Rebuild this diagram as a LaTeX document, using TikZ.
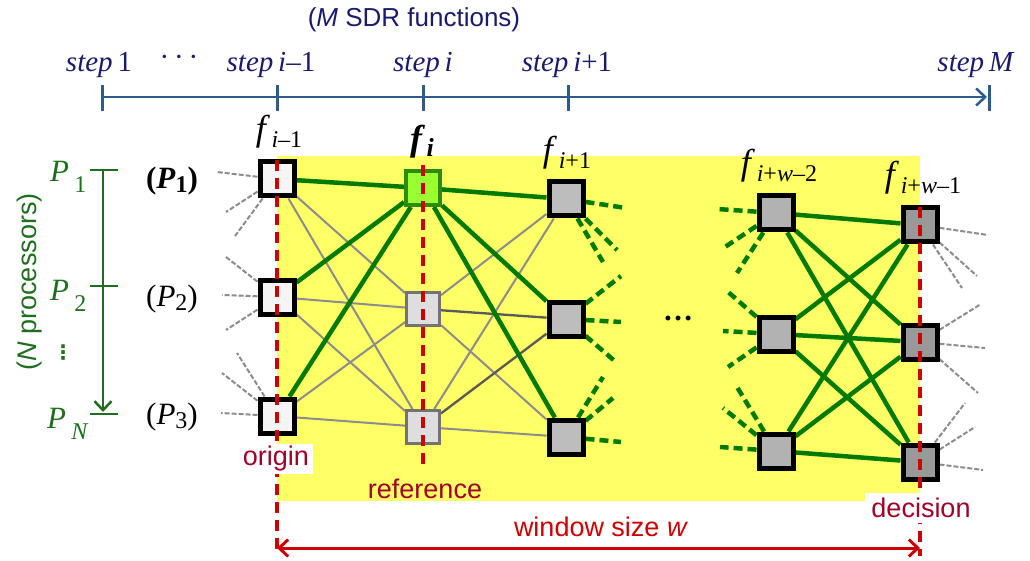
\documentclass[tikz,border=0pt]{standalone}
\usepackage{fontspec}
\setmainfont{Liberation Serif}
\setsansfont{Liberation Sans}
\newfontfamily\dejavu{DejaVu Sans}
\usetikzlibrary{arrows.meta}
\newcommand\myfs[1]{\fontsize{#1}{#1}\selectfont}
\newcommand\flab[1]{{\myfs{36}\textit{f}}\,\raisebox{-7pt}{\myfs{24}#1}}
\definecolor{navy}{HTML}{1A1A6E}
\definecolor{tline}{HTML}{2F5A8C}
\definecolor{dgreen}{HTML}{007A00}
\definecolor{lgreen}{HTML}{99FF33}
\definecolor{bgreen}{HTML}{2E8B10}
\definecolor{ylw}{HTML}{FFFF66}
\definecolor{dred}{HTML}{CC0000}
\definecolor{tred}{HTML}{A0002A}
\definecolor{pgreen}{HTML}{1E6E1E}
\pgfdeclarelayer{bg}
\pgfsetlayers{bg,main}
\begin{document}
\begin{tikzpicture}[x=1pt,y=-1pt,
  bx/.style={draw=black,line width=5pt,minimum size=34pt,inner sep=0pt},
  colA/.style={bx,fill=black!4},
  colBtop/.style={bx,draw=bgreen,line width=4pt,fill=lgreen,minimum size=34pt},
  colB/.style={bx,draw=black!55,line width=3pt,fill=black!13,minimum size=33pt},
  colC/.style={bx,fill=black!26},
  colD/.style={bx,fill=black!30},
  colE/.style={bx,fill=black!40},
  gedge/.style={draw=dgreen,line width=4.5pt},
  gyedge/.style={draw=black!45,line width=2pt},
  dgyedge/.style={draw=black!65,line width=2.3pt},
  gstub/.style={draw=dgreen,line width=4.5pt,dash pattern=on 9pt off 5pt},
  grstub/.style={draw=black!45,line width=2pt,dash pattern=on 5pt off 2pt},
  reddash/.style={draw=dred,line width=3.5pt,dash pattern=on 11pt off 7pt},
  steplab/.style={anchor=base,text=navy,font=\myfs{29}},
  redlab/.style={text=tred,font=\sffamily\myfs{27},inner sep=2pt},
  plab/.style={anchor=base west,text=pgreen,font=\myfs{31},inner sep=0pt},
  pplab/.style={anchor=base,text=black,font=\myfs{31},inner sep=0pt},
  flabel/.style={anchor=base,inner sep=0pt}
]
\useasboundingbox (0,0) rectangle (1030,561);

% ---- timeline ----
\node[text=navy,font=\sffamily\myfs{26}] (title) at (414,20) {(\textit{M} SDR functions)};
\node[steplab] (s1) at (99,72) {\textit{step}\,1};
\node[steplab] (sd) at (179,72) {\raisebox{5pt}{·\,·\,·}};
\node[steplab] (sim) at (271,72) {\textit{step}\,\textit{i}–1};
\node[steplab] (si) at (423,72) {\textit{step}\,\textit{i}};
\node[steplab] (sip) at (567,72) {\textit{step}\,\textit{i}+1};
\node[steplab] (sM) at (976,72) {\textit{step}\,\textit{M}};
\coordinate (tl0) at (102,97);
\coordinate (tl1) at (987,97);
\draw[tline,line width=2.5pt,-{Straight Barb[length=9pt,width=17pt,line width=2.5pt]}] (tl0) -- (tl1);
\foreach \x [count=\k] in {102,277,423,568,989} {
  \coordinate (tt\k) at (\x,85);
  \coordinate (tb\k) at (\x,111);
  \draw[tline,line width=3pt] (tt\k) -- (tb\k);
}

% ---- processors axis ----
\node[rotate=90,text=pgreen,font=\sffamily\myfs{27}] (nproc) at (30,282) {(\textit{N} processors)};
\coordinate (pa0) at (103,170);
\coordinate (pa1) at (103,412);
\draw[pgreen,line width=2.5pt,-{Straight Barb[length=9pt,width=17pt,line width=2.5pt]}] (pa0) -- (pa1);
\foreach \y [count=\k] in {170,286,414} {
  \coordinate (pl\k) at (90,\y);
  \coordinate (pr\k) at (118,\y);
  \draw[pgreen,line width=2.5pt] (pl\k) -- (pr\k);
}
\node[plab] (P1) at (50,182) {\textit{P}\,\raisebox{-11pt}{\myfs{24}1}};
\node[plab] (P2) at (50,300) {\textit{P}\,\raisebox{-11pt}{\myfs{24}2}};
\node[plab] (PN) at (47,428) {\textit{P}\,\raisebox{-11pt}{\myfs{24}\textit{N}}};
\node[text=pgreen,font=\dejavu\bfseries\myfs{20}] (vd) at (63,353) {⋮};

\node[pplab] (Q1) at (172,189) {\textbf{(\textit{P}\raisebox{-4pt}{\myfs{24}1})}};
\node[pplab] (Q2) at (172,306) {(\textit{P}\raisebox{-4pt}{\myfs{24}2})};
\node[pplab] (Q3) at (172,424) {(\textit{P}\raisebox{-4pt}{\myfs{24}3})};

% ---- nodes ----
\node[colA] (a1) at (277,179) {};
\node[colA] (a2) at (277,297) {};
\node[colA] (a3) at (277,416) {};
\node[colBtop] (b1) at (423,188) {};
\node[colB] (b2) at (423,309) {};
\node[colB] (b3) at (423,427) {};
\node[colC] (c1) at (566,199) {};
\node[colC] (c2) at (566,319) {};
\node[colC] (c3) at (566,437) {};
\node[colD] (d1) at (776,213) {};
\node[colD] (d2) at (776,334) {};
\node[colD] (d3) at (776,451) {};
\node[colE] (e1) at (920,225) {};
\node[colE] (e2) at (920,342) {};
\node[colE] (e3) at (920,462) {};

\node[flabel] (fa) at (279,141) {\flab{\textit{i}–1}};
\node[flabel] (fb) at (422,151) {{\myfs{36}\textbf{\textit{f}}}\,\raisebox{-6pt}{\myfs{26}\textbf{\textit{i}}}};
\node[flabel] (fc) at (567,162) {\flab{\textit{i}+1}};
\node[flabel] (fd) at (779,175) {\flab{\textit{i}+\textit{w}–2}};
\node[flabel] (fe) at (923,187) {\flab{\textit{i}+\textit{w}–1}};

\node[font=\myfs{30}] (dots) at (678,318) {\textbf{…}};

% ---- background layer ----
\begin{pgfonlayer}{bg}
\fill[ylw] (277,156) rectangle (920,501);
\foreach \s/\t in {a1/b2,a1/b3,a2/b2,a2/b3,a3/b2,a3/b3,b2/c1,b3/c1,b2/c3,b3/c3}
  \draw[gyedge] (\s) -- (\t);
\foreach \s/\t in {b2/c2,b3/c2}
  \draw[dgyedge] (\s) -- (\t);
\foreach \s/\t in {a1/b1,a2/b1,a3/b1,b1/c1,b1/c2,b1/c3}
  \draw[gedge] (\s) -- (\t);
\foreach \s in {d1,d2,d3}
  \foreach \t in {e1,e2,e3}
    \draw[gedge] (\s) -- (\t);
% gray stubs left
\foreach \n/\x/\y [count=\k] in {a1/217/172,a1/226/212,a1/235/236,a2/226/257,a2/222/295,a2/226/330,a3/237/353,a3/222/373,a3/221/413}{
  \coordinate (gl\k) at (\x,\y);
  \draw[grstub] (\n) -- (gl\k);
}
% gray stubs right
\foreach \n/\x/\y [count=\k] in {e1/988/235,e1/977/276,e1/962/288,e2/981/304,e2/985/348,e2/978/393,e3/965/403,e3/975/427,e3/983/470}{
  \coordinate (gr\k) at (\x,\y);
  \draw[grstub] (\n) -- (gr\k);
}
% green stubs after column c
\foreach \n/\x/\y [count=\k] in {c1/626/208,c1/617/250,c1/603/262,c2/621/276,c2/621/322,c2/617/363,c3/603/377,c3/613/398,c3/621/442}{
  \coordinate (sc\k) at (\x,\y);
  \draw[gstub] (\n) -- (sc\k);
}
% green stubs before column d
\foreach \n/\x/\y [count=\k] in {d1/717/209,d1/725/247,d1/737/273,d2/727/291,d2/723/331,d2/728/367,d3/737/387,d3/723/408,d3/720/447}{
  \coordinate (sd\k) at (\x,\y);
  \draw[gstub] (\n) -- (sd\k);
}
\end{pgfonlayer}

% ---- red dashed lines ----
\coordinate (ra0) at (277,160); \coordinate (ra1) at (277,556);
\coordinate (rb0) at (423,165); \coordinate (rb1) at (423,467);
\coordinate (rc0) at (920,207); \coordinate (rc1) at (920,556);
\draw[reddash] (ra0) -- (ra1);
\draw[reddash] (rb0) -- (rb1);
\draw[reddash] (rc0) -- (rc1);

% ---- red labels ----
\node[redlab,fill=white,inner xsep=4pt] (orig) at (276,459) {origin};
\node[redlab] (ref) at (425,489) {reference};
\node[redlab,fill=white,inner xsep=6pt,inner ysep=5pt] (dec) at (921,508) {decision};
\node[text=dred,font=\sffamily\myfs{27}] (win) at (601,527) {window size \textit{w}};
\coordinate (wl) at (277,548);
\coordinate (wr) at (920,548);
\draw[dred,line width=3pt,{Straight Barb[length=9pt,width=17pt,line width=3pt]}-{Straight Barb[length=9pt,width=17pt,line width=3pt]}] (wl) -- (wr);
\end{tikzpicture}
\end{document}
